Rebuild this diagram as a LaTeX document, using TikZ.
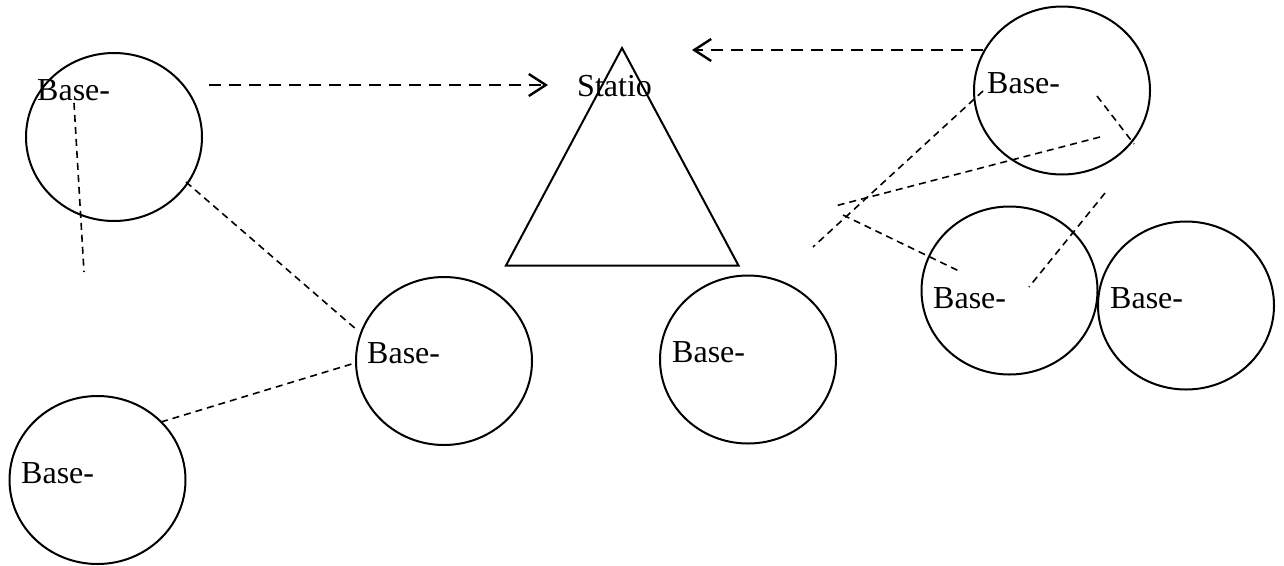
\documentclass[tikz,border=0pt]{standalone}
\usepackage{fontspec}
\setmainfont{Liberation Serif}
\usetikzlibrary{shapes.geometric,arrows.meta}
\begin{document}
\begin{tikzpicture}[x=1pt,y=-1pt,
  bs/.style={draw,line width=2pt,ellipse,minimum width=176pt,minimum height=168pt,inner sep=0pt},
  lbl/.style={anchor=base west,inner sep=0pt,font=\fontsize{32}{32}\selectfont},
  thin dash/.style={line width=1.6pt,dash pattern=on 7pt off 5pt},
  arr/.style={line width=2.4pt,dash pattern=on 12pt off 8pt,-{Straight Barb[length=17pt,width=22pt,line width=2.4pt]}}]
\useasboundingbox (0,0) rectangle (1284,565);
% circles
\node[bs] (c1) at (114,137) {};
\node[bs] (c2) at (444,361) {};
\node[bs] (c3) at (97.5,480) {};
\node[bs] (c4) at (748,359.5) {};
\node[bs] (c5) at (1062,90.5) {};
\node[bs] (c6) at (1009.5,290.5) {};
\node[bs] (c7) at (1186,305.5) {};
% triangle
\coordinate (tA) at (622,48);
\coordinate (tB) at (506,265.5);
\coordinate (tC) at (738.5,265.5);
\draw[line width=2pt,line join=miter] (tA) -- (tB) -- (tC) -- cycle;
% labels
\node[lbl] (t1) at (37,100) {Base-};
\node[lbl] (t2) at (367,363) {Base-};
\node[lbl] (t3) at (21,483) {Base-};
\node[lbl] (t4) at (672,362) {Base-};
\node[lbl] (t5) at (987,93) {Base-};
\node[lbl] (t6) at (933,308) {Base-};
\node[lbl] (t7) at (1110,308) {Base-};
\node[lbl] (ts) at (577,96) {Statio};
% arrows
\coordinate (a1s) at (209,85);
\coordinate (a1e) at (548,85);
\coordinate (a2s) at (983,50);
\coordinate (a2e) at (692,50);
\draw[arr] (a1s) -- (a1e);
\draw[arr] (a2s) -- (a2e);
% dashed lines
\coordinate (p1a) at (74,103);   \coordinate (p1b) at (84,272);
\coordinate (p2a) at (186,182);  \coordinate (p2b) at (357,330);
\coordinate (p3a) at (161,422);  \coordinate (p3b) at (355,363);
\coordinate (p4a) at (983,91);   \coordinate (p4b) at (813,247);
\coordinate (p5a) at (1097,96);  \coordinate (p5b) at (1134,144);
\coordinate (p6a) at (1100,137); \coordinate (p6b) at (835,206);
\coordinate (p7a) at (843,215);  \coordinate (p7b) at (961,272);
\coordinate (p8a) at (1105,193); \coordinate (p8b) at (1029,287);
\draw[thin dash] (p1a) -- (p1b);
\draw[thin dash] (p2a) -- (p2b);
\draw[thin dash] (p3a) -- (p3b);
\draw[thin dash] (p4a) -- (p4b);
\draw[thin dash] (p5a) -- (p5b);
\draw[thin dash] (p6a) -- (p6b);
\draw[thin dash] (p7a) -- (p7b);
\draw[thin dash] (p8a) -- (p8b);
\end{tikzpicture}
\end{document}
